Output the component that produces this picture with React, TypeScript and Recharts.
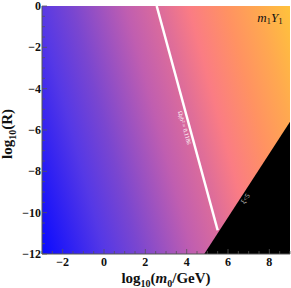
import React from 'react';
import {
  ComposedChart,
  XAxis,
  YAxis,
  Line,
  Area,
  ReferenceArea,
  ReferenceDot,
} from 'recharts';

// log10(m0/GeV) tick positions (minor every 0.5, labels on even values)
const xTicks = [-3, -2.5, -2, -1.5, -1, -0.5, 0, 0.5, 1, 1.5, 2, 2.5, 3, 3.5, 4, 4.5, 5, 5.5, 6, 6.5, 7, 7.5, 8, 8.5, 9];
const xLabels = [-2, 0, 2, 4, 6, 8];
// log10(R) tick positions
const yTicks = [-12, -11.5, -11, -10.5, -10, -9.5, -9, -8.5, -8, -7.5, -7, -6.5, -6, -5.5, -5, -4.5, -4, -3.5, -3, -2.5, -2, -1.5, -1, -0.5, 0];
const yLabels = [-12, -10, -8, -6, -4, -2, 0];

// relic density contour Omega h^2 = 0.1186
const relicLine = [
  { m0: 2.55, r: 0 },
  { m0: 5.5, r: -10.85 },
];
// excluded (black) region boundary
const excluded = [
  { m0: 4.85, r: -12 },
  { m0: 9, r: -5.6 },
];

const SERIF = "'Liberation Serif', 'Times New Roman', Times, serif";
const FRAME = '#555';

const minus = (v: number) => (v < 0 ? '\u2212' + Math.abs(v) : String(v));

const BottomTick = (props: any) => {
  const { x, y, payload } = props;
  const major = xLabels.includes(payload.value);
  return (
    <g>
      <line x1={x} x2={x} y1={y} y2={y - (major ? 5 : 3)} stroke={FRAME} strokeWidth={0.8} />
      {major && (
        <text x={x} y={y + 12} textAnchor="middle" style={{ fontFamily: SERIF, fontWeight: 700 }} fontSize={12} fill="#111">
          {minus(payload.value)}
        </text>
      )}
    </g>
  );
};

const TopTick = (props: any) => {
  const { x, y, payload } = props;
  const major = xLabels.includes(payload.value);
  return <line x1={x} x2={x} y1={y} y2={y + (major ? 5 : 3)} stroke={FRAME} strokeWidth={0.8} />;
};

const LeftTick = (props: any) => {
  const { x, y, payload } = props;
  const major = yLabels.includes(payload.value);
  return (
    <g>
      <line x1={x} x2={x + (major ? 5 : 3)} y1={y} y2={y} stroke={FRAME} strokeWidth={0.8} />
      {major && (
        <text x={x - 1} y={y + 4} textAnchor="end" style={{ fontFamily: SERIF, fontWeight: 700 }} fontSize={12} fill="#111">
          {minus(payload.value)}
        </text>
      )}
    </g>
  );
};

const RightTick = (props: any) => {
  const { x, y, payload } = props;
  const major = yLabels.includes(payload.value);
  return <line x1={x} x2={x - (major ? 5 : 3)} y1={y} y2={y} stroke={FRAME} strokeWidth={0.8} />;
};

const XTitle = (props: any) => {
  const vb = props.viewBox;
  return (
    <text x={vb.x + vb.width / 2} y={vb.y + 29} textAnchor="middle" style={{ fontFamily: SERIF, fontWeight: 700 }} fontSize={15} fill="#111">
      <tspan>log</tspan>
      <tspan dy={4} fontSize={10}>10</tspan>
      <tspan dy={-4}>(</tspan>
      <tspan fontStyle="italic">m</tspan>
      <tspan dy={4} fontSize={10}>0</tspan>
      <tspan dy={-4}>/GeV)</tspan>
    </text>
  );
};

const YTitle = (props: any) => {
  const vb = props.viewBox;
  const cx = 12;
  const cy = vb.y + vb.height / 2 + 4;
  return (
    <text x={cx} y={cy} transform={`rotate(-90 ${cx} ${cy})`} textAnchor="middle" style={{ fontFamily: SERIF, fontWeight: 700 }} fontSize={15} fill="#111">
      <tspan>log</tspan>
      <tspan dy={4} fontSize={10}>10</tspan>
      <tspan dy={-4}>(R)</tspan>
    </text>
  );
};

const Background = (props: any) => {
  const { x, y, width, height } = props;
  return (
    <g>
      <defs>
        <linearGradient id="sunset" x1="0" y1="1" x2="1.18" y2="0.68">
          <stop offset="0" stopColor="#0a0aff" />
          <stop offset="0.2" stopColor="#5538e6" />
          <stop offset="0.31" stopColor="#7a46d0" />
          <stop offset="0.48" stopColor="#c05eb0" />
          <stop offset="0.6" stopColor="#e06e98" />
          <stop offset="0.68" stopColor="#fa7c84" />
          <stop offset="0.8" stopColor="#ff9262" />
          <stop offset="0.9" stopColor="#ffa850" />
          <stop offset="1" stopColor="#ffc23c" />
        </linearGradient>
      </defs>
      <rect x={x} y={y} width={width} height={height} fill="url(#sunset)" />
    </g>
  );
};

const rotatedText = (text: string, angle: number, size: number, color: string) => (props: any) => {
  const { cx, cy } = props;
  return (
    <text
      x={cx}
      y={cy}
      transform={`rotate(${angle} ${cx} ${cy})`}
      textAnchor="middle"
      dominantBaseline="middle"
      style={{ fontFamily: SERIF }}
      fontSize={size}
      fill={color}
    >
      {text}
    </text>
  );
};

const ModelLabel = (props: any) => {
  const { cx, cy } = props;
  return (
    <text x={cx} y={cy} textAnchor="middle" dominantBaseline="middle" style={{ fontFamily: SERIF }} fontStyle="italic" fontSize={13} fill="#111">
      <tspan>m</tspan>
      <tspan dy={3} fontSize={9} fontStyle="normal">1</tspan>
      <tspan dy={-3}>Y</tspan>
      <tspan dy={3} fontSize={9} fontStyle="normal">1</tspan>
    </text>
  );
};

const App: React.FC = () => {
  return (
    <div style={{ position: 'absolute', left: 0, top: 0, width: 291, height: 288, background: '#fff' }}>
      <ComposedChart width={291} height={288} margin={{ top: 6, right: 1, bottom: 0, left: 0 }}>
        <XAxis
          xAxisId="b"
          type="number"
          dataKey="m0"
          domain={[-3, 9]}
          ticks={xTicks}
          interval={0}
          allowDataOverflow
          height={34}
          tickSize={0}
          tickMargin={0}
          tickLine={false}
          axisLine={{ stroke: FRAME }}
          tick={BottomTick}
          label={XTitle}
        />
        <XAxis
          xAxisId="t"
          orientation="top"
          type="number"
          dataKey="m0"
          domain={[-3, 9]}
          ticks={xTicks}
          interval={0}
          allowDataOverflow
          height={0}
          tickSize={0}
          tickMargin={0}
          tickLine={false}
          axisLine={{ stroke: FRAME }}
          tick={TopTick}
        />
        <YAxis
          yAxisId="l"
          type="number"
          dataKey="r"
          domain={[-12, 0]}
          ticks={yTicks}
          interval={0}
          allowDataOverflow
          width={42}
          tickSize={0}
          tickMargin={0}
          tickLine={false}
          axisLine={{ stroke: FRAME }}
          tick={LeftTick}
          label={YTitle}
        />
        <YAxis
          yAxisId="r"
          orientation="right"
          type="number"
          dataKey="r"
          domain={[-12, 0]}
          ticks={yTicks}
          interval={0}
          allowDataOverflow
          width={0}
          tickSize={0}
          tickMargin={0}
          tickLine={false}
          axisLine={{ stroke: FRAME }}
          tick={RightTick}
        />
        <ReferenceArea xAxisId="b" yAxisId="l" x1={-3} x2={9} y1={-12} y2={0} shape={Background} ifOverflow="visible" />
        <Area
          xAxisId="b"
          yAxisId="l"
          data={excluded}
          dataKey="r"
          type="linear"
          baseValue={-12}
          fill="#000"
          fillOpacity={1}
          stroke="none"
          isAnimationActive={false}
        />
        <Line
          xAxisId="b"
          yAxisId="l"
          data={relicLine}
          dataKey="r"
          type="linear"
          stroke="#fff"
          strokeWidth={2.5}
          dot={false}
          isAnimationActive={false}
        />
        <ReferenceDot xAxisId="b" yAxisId="l" x={3.87} y={-5.9} r={0} shape={rotatedText('\u03a9\u03c7h\u00b2 = 0.1186', 74, 6, '#fff')} />
        <ReferenceDot xAxisId="b" yAxisId="l" x={6.87} y={-9.34} r={0} shape={rotatedText('\u03be<5', -57, 7, '#ccc')} />
        <ReferenceDot xAxisId="b" yAxisId="l" x={8.03} y={-0.63} r={0} shape={ModelLabel} />
      </ComposedChart>
    </div>
  );
};

export default App;
